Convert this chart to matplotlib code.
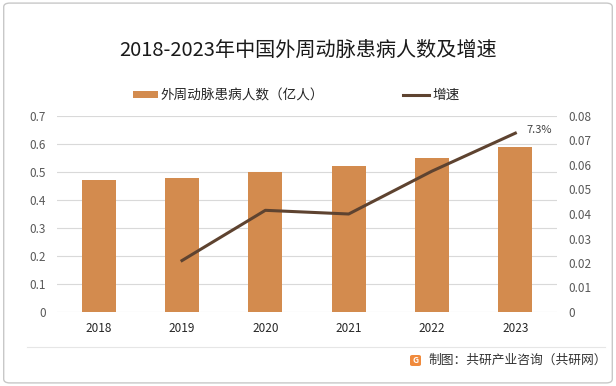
import matplotlib
matplotlib.use("Agg")
import matplotlib.pyplot as plt
from matplotlib.patches import FancyBboxPatch, Rectangle
from matplotlib.lines import Line2D

plt.rcParams['font.family'] = ['Noto Sans CJK SC', 'DejaVu Sans']

years = ['2018', '2019', '2020', '2021', '2022', '2023']
patients = [0.47, 0.48, 0.50, 0.52, 0.55, 0.59]
growth_years = ['2019', '2020', '2021', '2022', '2023']
growth = [0.021, 0.0415, 0.040, 0.0575, 0.073]
left_ticks = [0, 0.1, 0.2, 0.3, 0.4, 0.5, 0.6, 0.7]
right_ticks = [0, 0.01, 0.02, 0.03, 0.04, 0.05, 0.06, 0.07, 0.08]
title = '2018-2023年中国外周动脉患病人数及增速'
bar_label = '外周动脉患病人数（亿人）'
line_label = '增速'
last_label = '7.3%'
source = '制图：共研产业咨询（共研网）'

bar_color = '#D38B4E'
line_color = '#5E4330'
tick_color = '#595959'

fig = plt.figure(figsize=(6.16, 3.86), dpi=100)
fig.patch.set_facecolor('white')

# border
fig.patches.append(FancyBboxPatch((0.006, 0.008), 0.988, 0.984, boxstyle='round,pad=0,rounding_size=0.01',
                                  transform=fig.transFigure, fill=False, edgecolor='#C8C8C8', linewidth=1.0))

ax = fig.add_axes([57/616, 1-312/386, 500/616, 196/386])
x = list(range(len(years)))
ax.bar(x, patients, width=0.41, color=bar_color, zorder=2)
ax.set_xlim(-0.5, len(years)-0.5)
ax.set_ylim(0, 0.7)
ax.set_yticks(left_ticks)
ax.set_yticklabels(['0' if v == 0 else f'{v:g}' for v in left_ticks])
ax.set_xticks(x)
ax.set_xticklabels(years)
ax.grid(axis='y', color='#D9D9D9', linewidth=0.8, zorder=0)
ax.set_axisbelow(True)
for s in ax.spines.values():
    s.set_visible(False)
ax.tick_params(axis='both', length=0, labelsize=8.5, colors=tick_color, pad=8)
ax.tick_params(axis='x', pad=7, labelcolor='#262626')

ax2 = ax.twinx()
gx = [years.index(y) for y in growth_years]
ax2.plot(gx, growth, color=line_color, linewidth=2.2, zorder=3)
ax2.set_ylim(0, 0.08)
ax2.set_yticks(right_ticks)
ax2.set_yticklabels(['0' if v == 0 else f'{v:g}' for v in right_ticks])
for s in ax2.spines.values():
    s.set_visible(False)
ax2.tick_params(axis='y', length=0, labelsize=8.5, colors=tick_color, pad=8)
ax2.annotate(last_label, (gx[-1], growth[-1]), xytext=(8, 2), textcoords='offset points',
             fontsize=8, color='#404040', va='center', ha='left')

fig.text(0.5, 1-50/386, title, ha='center', va='center', fontsize=14.5, color='#1a1a1a')

# legend
fig.patches.append(Rectangle((133/616, 1-98/386), 25/616, 7/386, transform=fig.transFigure,
                             facecolor=bar_color, edgecolor='none'))
fig.text(160/616, 1-95/386, bar_label, ha='left', va='center', fontsize=9.8, color='#262626')
fig.lines.append(Line2D([403/616, 429/616], [1-95/386, 1-95/386], transform=fig.transFigure,
                        color=line_color, linewidth=2.2))
fig.text(432/616, 1-95/386, line_label, ha='left', va='center', fontsize=9.8, color='#262626')

# source
fig.lines.append(Line2D([27/616, 605/616], [1-347/386, 1-347/386], transform=fig.transFigure,
                        color='#E6E6E6', linewidth=0.8))
fig.patches.append(FancyBboxPatch((410/616, 1-366/386), 11/616, 11/386, boxstyle='round,pad=0,rounding_size=0.004',
                                  transform=fig.transFigure, facecolor='#F08A3C', edgecolor='none'))
fig.text(415.5/616, 1-360.5/386, 'G', ha='center', va='center', fontsize=6, color='white', fontweight='bold')
fig.text(428/616, 1-360/386, source, ha='left', va='center', fontsize=9.2, color='#333333')

fig.savefig('out.png', dpi=100, facecolor='white')
